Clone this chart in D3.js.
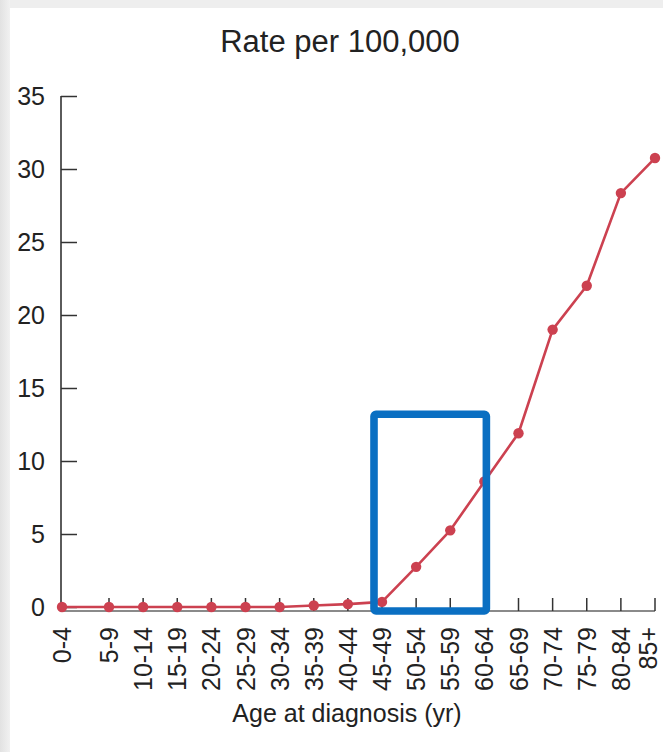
<!DOCTYPE html>
<html>
<head>
<meta charset="utf-8">
<script src="https://cdn.jsdelivr.net/npm/d3@7/dist/d3.min.js"></script>
<style>
  html, body { margin: 0; padding: 0; background: #ffffff; }
  svg { display: block; }
  text { font-family: "Liberation Sans", Arial, Helvetica, sans-serif; fill: #222; }
</style>
</head>
<body>
<svg id="chart" width="663" height="752"></svg>
<script>
// Age-specific incidence, rate per 100,000
const ageGroups = ["0-4", "5-9", "10-14", "15-19", "20-24", "25-29", "30-34", "35-39", "40-44",
                   "45-49", "50-54", "55-59", "60-64", "65-69", "70-74", "75-79", "80-84", "85+"];
const rates = [0, 0, 0, 0, 0, 0, 0, 0.1, 0.2, 0.35, 2.75, 5.25, 8.6, 11.9, 19.0, 22.0, 28.35, 30.75];
const yTicks = [0, 5, 10, 15, 20, 25, 30, 35];
const highlightGroups = ["45-49", "60-64"];
const highlightTop = 13.2;
const chartTitle = "Rate per 100,000";
const xTitle = "Age at diagnosis (yr)";

const svg = d3.select("#chart");
const W = 663, H = 752;

// page frame: soft grey strips along the top and left edges
const defs = svg.append("defs");
const lg = defs.append("linearGradient").attr("id", "edge").attr("x1", 0).attr("x2", 1);
lg.append("stop").attr("offset", 0).attr("stop-color", "#e2e2e2");
lg.append("stop").attr("offset", 1).attr("stop-color", "#f1f1f1");
svg.append("rect").attr("x", 0).attr("y", 0).attr("width", W).attr("height", 8).attr("fill", "#eeeeee");
svg.append("rect").attr("x", 0).attr("y", 0).attr("width", 10).attr("height", H).attr("fill", "url(#edge)");

// scales: first age group sits on the y axis, the rest are evenly spaced
const idx = d3.scaleLinear().domain([0, 1, ageGroups.length - 1]).range([62, 109, 655]);
const x = g => idx(ageGroups.indexOf(g));
const y = d3.scaleLinear().domain([0, 35]).range([607, 96]);
const axisY = 611;

// title
svg.append("text").attr("x", 340).attr("y", 52).attr("text-anchor", "middle")
  .style("font-size", "31px").text(chartTitle);

// y axis with inward ticks
const yAxis = d3.axisLeft(y).tickValues(yTicks).tickSize(-16).tickPadding(16);
const gy = svg.append("g").attr("transform", `translate(61,0)`).call(yAxis);
gy.select(".domain").remove();
gy.selectAll(".tick line").attr("stroke", "#333").attr("stroke-width", 1.5);
gy.selectAll(".tick text").style("font-size", "25px").attr("fill", "#222");
svg.append("line").attr("x1", 61).attr("x2", 61).attr("y1", y(35)).attr("y2", axisY)
  .attr("stroke", "#333").attr("stroke-width", 1.6);

// x axis: grey baseline, upward ticks, rotated labels
svg.append("line").attr("x1", 61).attr("x2", x("85+")).attr("y1", axisY).attr("y2", axisY)
  .attr("stroke", "#8a8a8a").attr("stroke-width", 2);
svg.append("g").selectAll("line").data(ageGroups.slice(1)).join("line")
  .attr("x1", d => x(d)).attr("x2", d => x(d))
  .attr("y1", axisY).attr("y2", axisY - 13)
  .attr("stroke", "#333").attr("stroke-width", 1.5);
svg.append("g").selectAll("text").data(ageGroups).join("text")
  .attr("transform", d => `translate(${Math.min(x(d) + 9, 657)},627) rotate(-90)`)
  .attr("text-anchor", "end")
  .style("font-size", "25px")
  .text(d => d);

// x axis title
svg.append("text").attr("x", 347).attr("y", 722).attr("text-anchor", "middle")
  .style("font-size", "25px").text(xTitle);

// rate line and markers
const lineColor = "#cc4150";
const line = d3.line().x((d, i) => x(ageGroups[i])).y(d => y(d));
svg.append("path").datum(rates).attr("d", line)
  .attr("fill", "none").attr("stroke", lineColor).attr("stroke-width", 2.6)
  .attr("stroke-linejoin", "round");
svg.append("g").selectAll("circle").data(rates).join("circle")
  .attr("cx", (d, i) => x(ageGroups[i])).attr("cy", d => y(d)).attr("r", 5.2)
  .attr("fill", lineColor);

// highlighted age range
const bx0 = x(highlightGroups[0]) - 8, bx1 = x(highlightGroups[1]) + 2;
svg.append("rect")
  .attr("x", bx0).attr("y", y(highlightTop))
  .attr("width", bx1 - bx0).attr("height", axisY - y(highlightTop))
  .attr("rx", 2).attr("fill", "none")
  .attr("stroke", "#0a6fc2").attr("stroke-width", 7.6);
</script>
</body>
</html>
